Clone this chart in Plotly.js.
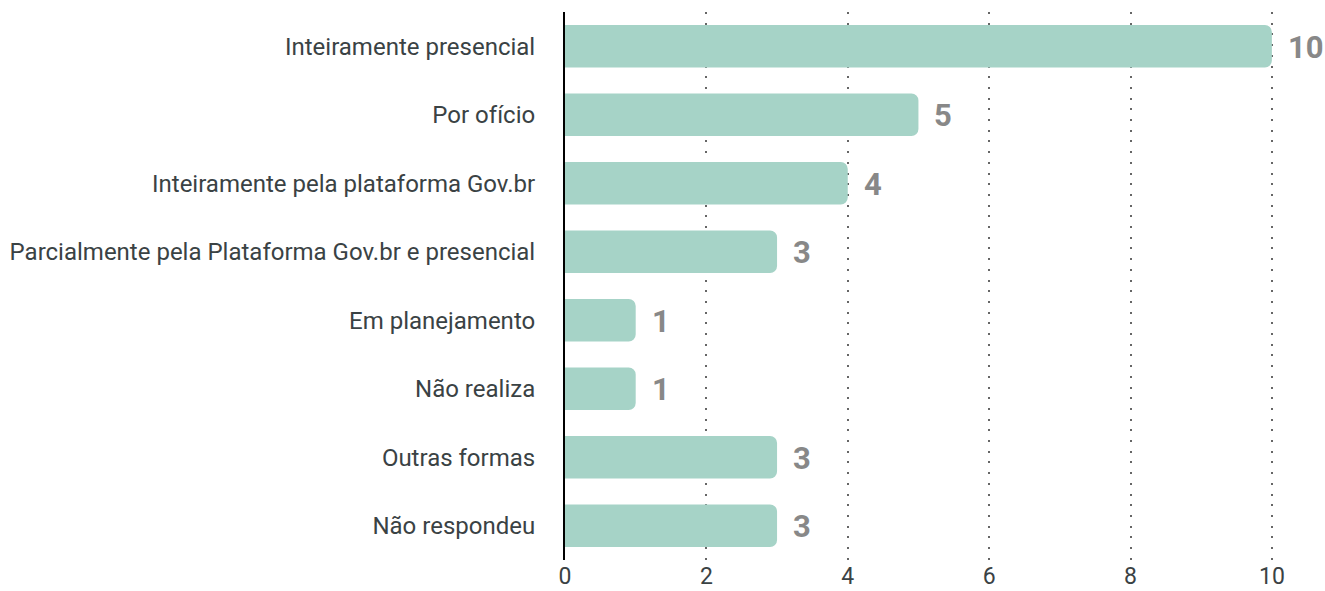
<!DOCTYPE html>
<html>
<head>
<meta charset="utf-8">
<script src="https://cdn.plot.ly/plotly-3.0.1.min.js"></script>
<style>html,body{margin:0;padding:0;background:#fff;}#chart{width:1325px;height:591px;}</style>
</head>
<body>
<div id="chart"></div>
<script>
const categories = [
  "Inteiramente presencial",
  "Por ofício",
  "Inteiramente pela plataforma Gov.br",
  "Parcialmente pela Plataforma Gov.br e presencial",
  "Em planejamento",
  "Não realiza",
  "Outras formas",
  "Não respondeu"
];
const values = [10, 5, 4, 3, 1, 1, 3, 3];
const xTicks = [0, 2, 4, 6, 8, 10];

const annotations = values.map((v, i) => ({
  x: v, y: categories[i], xref: 'x', yref: 'y',
  text: String(v), showarrow: false, xanchor: 'left', yanchor: 'middle',
  xshift: 14, yshift: -1,
  font: {family: 'Roboto', size: 31, color: '#888888', weight: 700}
}));

Plotly.newPlot('chart', [{
  type: 'bar', orientation: 'h',
  x: values, y: categories,
  marker: {color: '#a6d3c7', cornerradius: 7},
  hoverinfo: 'none'
}], {
  width: 1325, height: 591,
  margin: {l: 565, r: 51, t: 12, b: 31},
  bargap: 0.38,
  paper_bgcolor: '#fff', plot_bgcolor: '#fff',
  font: {family: 'Roboto', color: '#3a4244'},
  showlegend: false,
  xaxis: {
    range: [0, 10.03], tickvals: xTicks, ticktext: xTicks.map(String),
    showgrid: true, gridcolor: '#666666', gridwidth: 2, griddash: '2px,8.7px',
    zeroline: false, showline: false, ticks: '', ticklabelstandoff: 0,
    tickfont: {family: 'Roboto', size: 23, color: '#3a4244'}
  },
  yaxis: {
    autorange: 'reversed', showgrid: false, zeroline: false,
    showline: true, linecolor: '#000', linewidth: 2,
    ticks: '', ticklabelstandoff: 23,
    tickfont: {family: 'Roboto', size: 24, color: '#3a4244'}
  },
  annotations: annotations
}, {displayModeBar: false, staticPlot: true});
</script>
</body>
</html>
